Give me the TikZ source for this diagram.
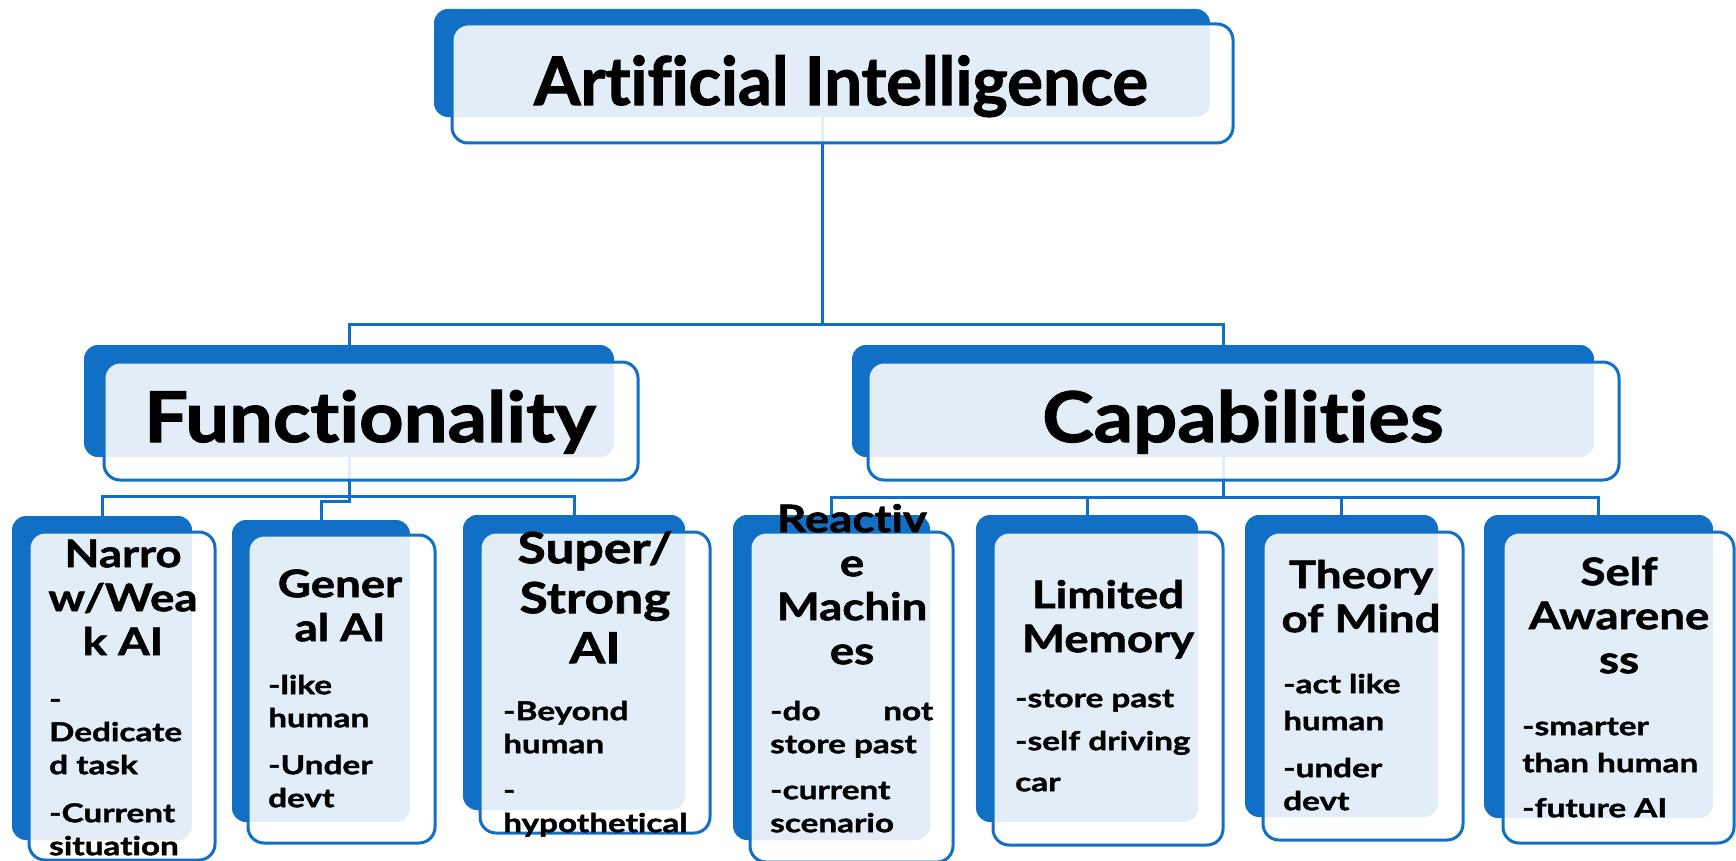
\documentclass[tikz,border=0pt]{standalone}
\usepackage{fontspec}
\setmainfont{Lato}[Ligatures=NoCommon, BoldFeatures={FakeBold=1.5}]
\newfontfamily\headfont{Lato}[Ligatures=NoCommon, FakeStretch=1.11, BoldFeatures={FakeBold=1.5}]
\newfontfamily\ttlfont{Lato}[Ligatures=NoCommon, FakeStretch=1.2, BoldFeatures={FakeBold=1.5}]
\newfontfamily\dscfont{Lato}[Ligatures=NoCommon, FakeStretch=1.28, BoldFeatures={FakeBold=1.5}]
\usetikzlibrary{fit,backgrounds}
\definecolor{aiblue}{HTML}{1170C6}
\newcommand{\aistrut}{\rule{0pt}{1em}}

\begin{document}
\begin{tikzpicture}[x=1pt, y=-1pt,
  back/.style={fill=aiblue, rounded corners=14pt, inner sep=0pt},
  front/.style={draw=aiblue, line width=3pt, fill=white, fill opacity=0.88, rounded corners=16pt, inner sep=0pt},
  link/.style={draw=aiblue, line width=3pt},
  ttl/.style={font=\ttlfont\fontsize{38}{44}\selectfont\bfseries, align=center, anchor=north, inner sep=0pt},
  dsc/.style={font=\dscfont\fontsize{26}{33}\selectfont\bfseries, align=left, anchor=north west, inner sep=0pt}]
\useasboundingbox (0,0) rectangle (1736,861);

% back boxes
\node[back, fit={(434,9) (1210,117)}] (root) {};
\node[back, fit={(84,345) (614,457)}] (func) {};
\node[back, fit={(852,345) (1594,457)}] (cap) {};
\node[back, fit={(12,516) (192,840)}] (narrow) {};
\node[back, fit={(232,520) (410,822)}] (general) {};
\node[back, fit={(463,515) (685,810)}] (superai) {};
\node[back, fit={(733,515) (930,840)}] (reactive) {};
\node[back, fit={(976,515) (1198,822)}] (limited) {};
\node[back, fit={(1245,515) (1438,817)}] (theory) {};
\node[back, fit={(1484,515) (1713,818)}] (selfaw) {};

% front boxes
\node[front, fit={(452,24) (1233,143)}] (rootf) {};
\node[front, fit={(104,362) (638,480)}] (funcf) {};
\node[front, fit={(868,362) (1619,480)}] (capf) {};
\node[front, fit={(29,532) (215,860)}] (narrowf) {};
\node[front, fit={(248,535) (435,843)}] (generalf) {};
\node[front, fit={(480,532) (710,833)}] (superaif) {};
\node[front, fit={(750,532) (953,862)}] (reactivef) {};
\node[front, fit={(993,532) (1223,845)}] (limitedf) {};
\node[front, fit={(1263,532) (1463,840)}] (theoryf) {};
\node[front, fit={(1503,532) (1734,843)}] (selfawf) {};

\coordinate (topbus) at (0,324);
\coordinate (fbus) at (0,496);
\coordinate (fjog) at (0,501);
\coordinate (cbus) at (0,497);

\begin{scope}[on background layer]
\draw[link] (root.south) -- (root.south |- topbus);
\draw[link] (func.north) |- (cap.north |- topbus) -- (cap.north);
\draw[link] (narrow.north) |- (superai.north |- fbus) -- (superai.north);
\draw[link] (func.south) |- (general.north |- fjog) -- (general.north);
\draw[link] (reactive.north) |- (selfaw.north |- cbus) -- (selfaw.north);
\draw[link] (cap.south) -- (cap.south |- cbus);
\draw[link] (limited.north) -- (limited.north |- cbus);
\draw[link] (theory.north) -- (theory.north |- cbus);
\end{scope}

\node[font=\fontsize{67}{67}\selectfont\bfseries, anchor=base] (rootT) at (841,105) {Artificial Intelligence};
\node[font=\headfont\fontsize{70}{70}\selectfont\bfseries, anchor=base] (funcT) at (370,442) {Functionality};
\node[font=\headfont\fontsize{70}{70}\selectfont\bfseries, anchor=base] (capT) at (1243,442) {Capabilities};

\node[ttl] (narrowT) at (123,529) {\aistrut Narro\\w/Wea\\k AI};
\node[ttl] (generalT) at (340,559) {\aistrut Gener\\al AI};
\node[ttl, font=\ttlfont\fontsize{43}{50}\selectfont\bfseries] (superaiT) at (595,520) {\aistrut Super/\\Strong\\AI};
\node[ttl] (reactiveT) at (852,494) {\aistrut Reactiv\\e\\Machin\\es};
\node[ttl] (limitedT) at (1108,570) {\aistrut Limited\\Memory};
\node[ttl] (theoryT) at (1361,550) {\aistrut Theory\\of Mind};
\node[ttl] (selfawT) at (1619,547) {\aistrut Self\\Awarene\\ss};

\node[dsc] (narrowD) at (49,682) {\aistrut -\\Dedicate\\d task\\[15pt]-Current\\situation};
\node[dsc] (generalD) at (268,668) {\aistrut -like\\human\\[14pt]-Under\\devt};
\node[dsc] (superaiD) at (503,694) {\aistrut -Beyond\\human\\[13pt]-\\hypothetical};
\node[dsc] (reactiveD) at (770,694) {\aistrut \makebox[163pt][s]{-do\hfill not}\\store past\\[13pt]-current\\scenario};
\node[dsc] (limitedD) at (1015,681) {\aistrut -store past\\[10pt]-self driving\\[8pt]car};
\node[dsc] (theoryD) at (1283,667) {\aistrut -act like\\[4pt]human\\[14pt]-under\\devt};
\node[dsc] (selfawD) at (1522,709) {\aistrut -smarter\\[4pt]than human\\[12pt]-future AI};
\end{tikzpicture}
\end{document}
